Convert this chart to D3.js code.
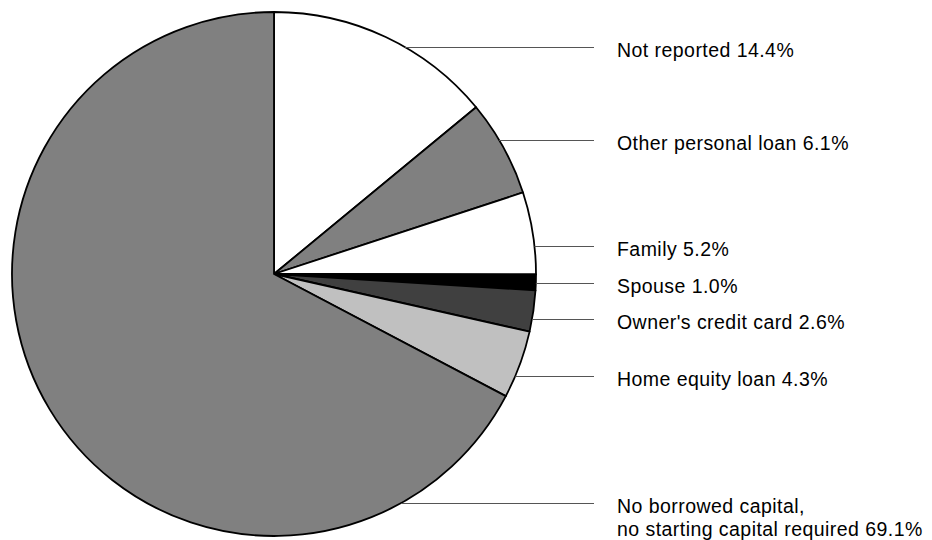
<!DOCTYPE html>
<html lang="en">
<head>
    <meta charset="UTF-8">
    <title>borrowed capital</title>
    <style>
        body { margin: 0; background: #fff; }
        text { font-family: "Liberation Sans", Arial, sans-serif; }
    </style>
</head>
<body>
<script src="https://cdn.jsdelivr.net/npm/d3@7"></script>
<script>
// slice order runs clockwise from 12 o'clock
const categories = ['Not reported', 'Other personal loan', 'Family', 'Spouse',
    "Owner's credit card", 'Home equity loan', 'No borrowed capital,\nno starting capital required'];
const values = [14.4, 6.1, 5.2, 1.0, 2.6, 4.3, 69.1];
const fills = ['#ffffff', '#808080', '#ffffff', '#000000', '#404040', '#c0c0c0', '#808080'];

// label rows sit where the original put them by hand
const labelY = [47, 140, 246, 283, 319, 376, 503];

const width = 932, height = 540;
const cx = 274, cy = 274, radius = 262;
const lineEnd = 594, textX = 617;

let svg = d3.select('body')
    .append('svg')
    .attr('width', width)
    .attr('height', height);

let pie = d3.pie().sort(null).value(d => d);
let arc = d3.arc().innerRadius(0).outerRadius(radius);

let g = svg.append('g').attr('transform', `translate(${cx},${cy})`);

g.selectAll('.slice')
    .data(pie(values))
    .enter()
    .append('path')
    .attr('class', 'slice')
    .attr('d', arc)
    .attr('fill', (d, i) => fills[i])
    .attr('stroke', '#000')
    .attr('stroke-width', 1.8)
    .attr('stroke-linejoin', 'round');

// leader lines start where the row meets the rim
svg.selectAll('.leader')
    .data(labelY)
    .enter()
    .append('line')
    .attr('class', 'leader')
    .attr('x1', y => cx + Math.sqrt(radius * radius - (y - cy) * (y - cy)))
    .attr('x2', lineEnd)
    .attr('y1', y => y + 0.5)
    .attr('y2', y => y + 0.5)
    .attr('stroke', '#555')
    .attr('stroke-width', 1);

let labels = svg.selectAll('.label')
    .data(categories)
    .enter()
    .append('text')
    .attr('class', 'label')
    .attr('x', textX)
    .attr('y', (d, i) => labelY[i] + 9.5)
    .attr('font-size', '19.5px')
    .attr('letter-spacing', '0.45px')
    .attr('fill', '#000');

labels.each(function(d, i) {
    let parts = (d + ' ' + d3.format('.1f')(values[i]) + '%').split('\n');
    d3.select(this).selectAll('tspan')
        .data(parts)
        .enter()
        .append('tspan')
        .attr('x', textX)
        .attr('dy', (p, k) => k === 0 ? 0 : 23)
        .text(p => p);
});
</script>
</body>
</html>
